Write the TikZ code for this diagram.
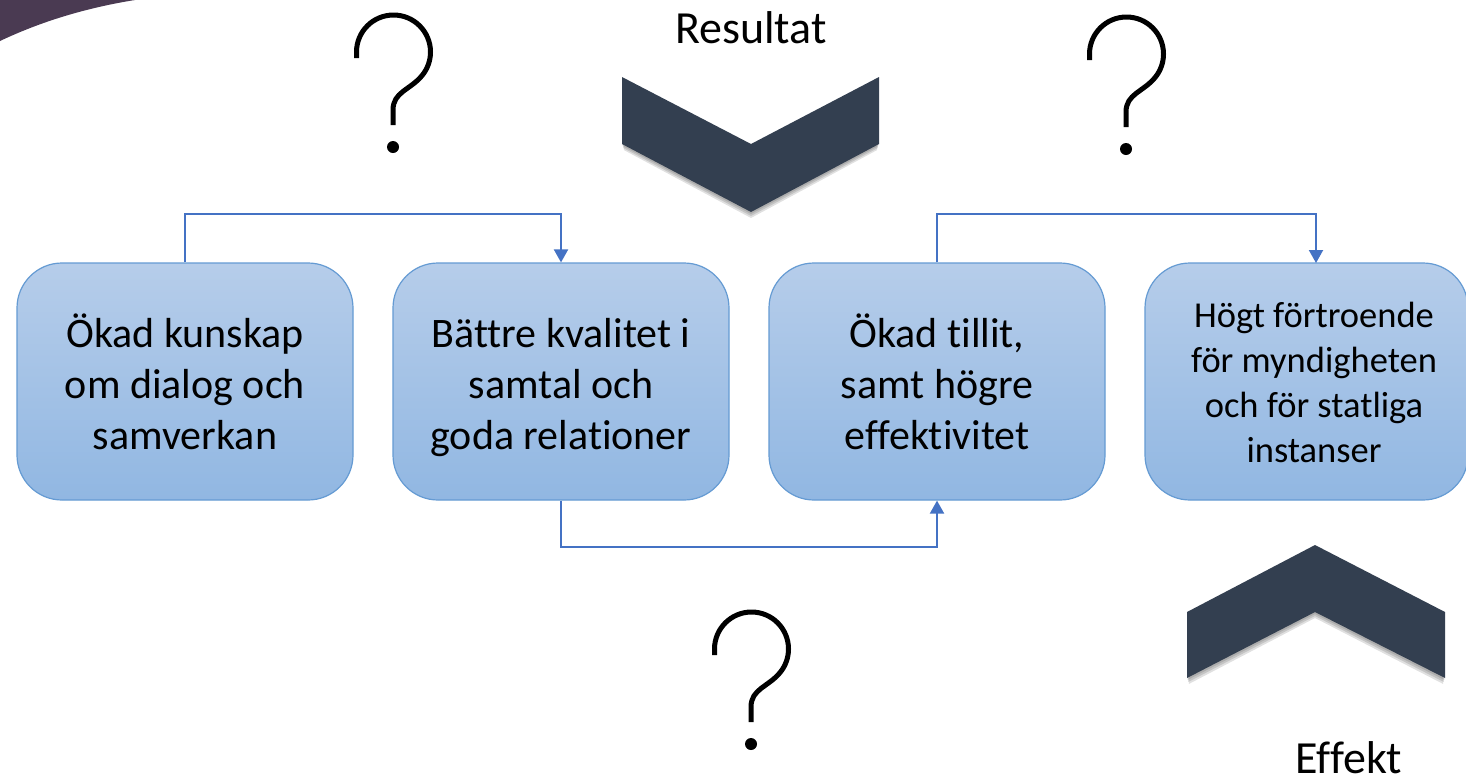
\documentclass[tikz,border=0pt]{standalone}
\usepackage{fontspec}
\setmainfont[Ligatures=NoCommon]{Carlito}
\usetikzlibrary{arrows.meta,calc}
\definecolor{connblue}{RGB}{68,114,196}
\definecolor{boxline}{RGB}{101,155,211}
\definecolor{boxtop}{RGB}{182,205,234}
\definecolor{boxbot}{RGB}{145,183,226}
\definecolor{chev}{RGB}{51,63,80}
\definecolor{swoosh}{RGB}{74,58,82}
\tikzset{
  stepbox/.style={draw=boxline, line width=1.2pt, rounded corners=45pt,
    top color=boxtop, bottom color=boxbot, minimum width=336pt, minimum height=237pt,
    align=center, inner sep=0pt, font=\fontsize{42}{51}\selectfont},
  smallbox/.style={stepbox, minimum width=323pt},
  boxtext/.style={align=center, inner sep=0pt, font=\fontsize{36.5}{45}\selectfont},
  connector/.style={draw=connblue, line width=2pt, -{Triangle[width=14pt,length=13pt]}},
  lbl/.style={inner sep=0pt, anchor=base, font=\fontsize{46}{55}\selectfont},
  chevshape/.style={fill=chev},
  chevshadow/.style={fill=black, opacity=0.12},
  qmark/.style={line width=5pt, line cap=butt},
}
\newcommand{\qmk}[2]{%
  \begin{scope}[shift={(#1,#2)}]
    \draw[qmark] (356.5,58) -- (356.5,52) arc[start angle=180, end angle=400, radius=37]
      .. controls (410,90) and (393,92) .. (393,110) -- (393,125);
    \fill (393,147) circle[radius=6];
  \end{scope}}
\newcommand{\tallstrut}{\rule{0pt}{41pt}}
\begin{document}
\begin{tikzpicture}[x=1pt,y=-1pt]
\useasboundingbox (0,0) rectangle (1466,780);
\fill[white] (0,0) rectangle (1466,780);
% swoosh
\fill[swoosh] (0,0) -- (135,0) .. controls (85,8) and (40,22) .. (0,41) -- cycle;
% top chevron
\foreach \s in {2,4,6}{
  \fill[chevshadow] (622+\s*0.3,77+\s) -- (751,144+\s) -- (879-\s*0.3,77+\s) -- (879-\s*0.3,144+\s) -- (751,212+\s) -- (622+\s*0.3,144+\s) -- cycle;}
\fill[chevshape] (622,77) -- (751,144) -- (879,77) -- (879,144) -- (751,212) -- (622,144) -- cycle;
% bottom chevron
\foreach \s in {2,4,6}{
  \fill[chevshadow] (1187+\s*0.3,612+\s) -- (1315,545+\s) -- (1445-\s*0.3,612+\s) -- (1445-\s*0.3,678+\s) -- (1315,612+\s) -- (1187+\s*0.3,678+\s) -- cycle;}
\fill[chevshape] (1187,612) -- (1315,545) -- (1445,612) -- (1445,678) -- (1315,612) -- (1187,678) -- cycle;
% labels
\node[lbl] (res) at (751,43) {Resultat};
\node[lbl] (eff) at (1349,773) {Effekt};
% question marks
\qmk{0}{0}
\qmk{733}{2}
\qmk{358}{597}
% boxes
\node[stepbox] (b1) at (185,381.5) {\tallstrut Ökad kunskap\\om dialog och\\samverkan\vphantom{g}};
\node[stepbox] (b2) at (561,381.5) {\tallstrut Bättre kvalitet i\\samtal och\\goda relationer};
\node[stepbox] (b3) at (937,381.5) {\tallstrut Ökad tillit,\\samt högre\\effektivitet\vphantom{g}};
\node[smallbox] (b4) at (1306.5,381.5) {};
\node[boxtext] (b4t) at (1314,382) {Högt förtroende\\för myndigheten\\och för statliga\\instanser};
\coordinate (b4in) at (1316,263);
% connectors
\draw[connector] (b1.north) -- ++(0,-48) -| (b2.north);
\draw[connector] (b2.south) -- ++(0,46) -| (b3.south);
\draw[connector] (b3.north) -- ++(0,-48) -| (b4in);
\end{tikzpicture}
\end{document}
